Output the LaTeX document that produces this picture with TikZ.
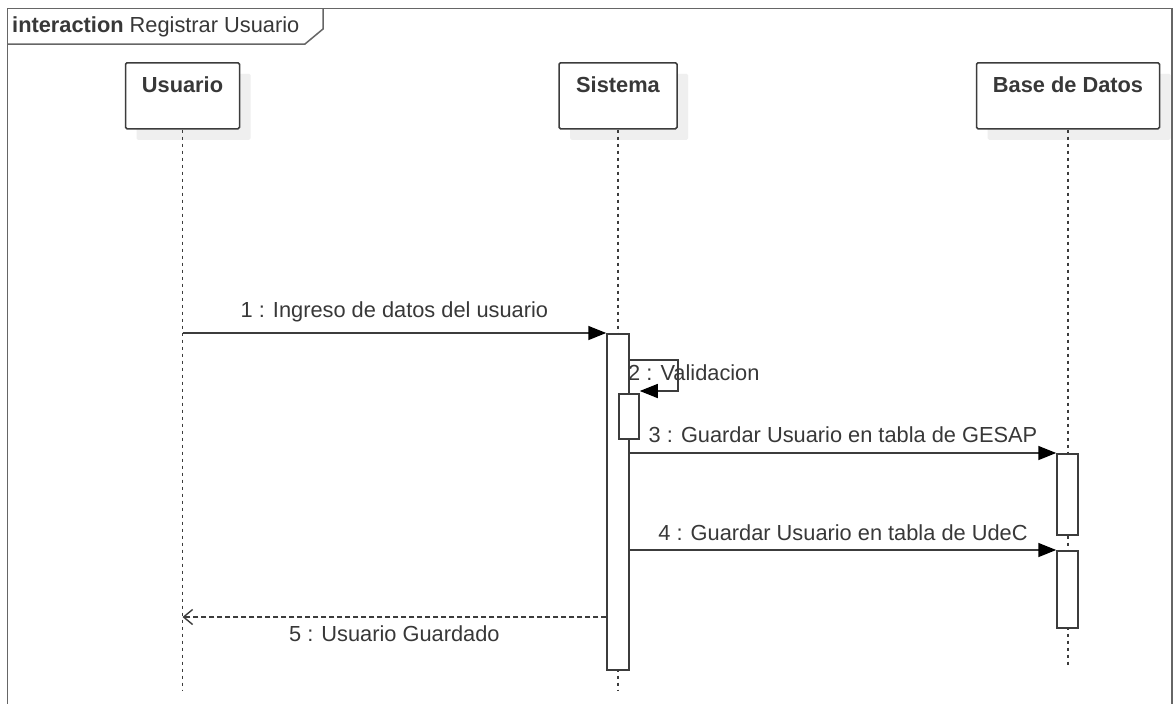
\documentclass[tikz,border=0pt]{standalone}
\usepackage{fontspec}
\setmainfont{Liberation Sans}
\usetikzlibrary{arrows.meta,shadows,calc}
\definecolor{ink}{HTML}{383838}
\definecolor{edge}{HTML}{3C3C3C}
\definecolor{shade}{HTML}{EFEFEF}
\tikzset{
  every node/.style={font=\fontsize{21.8}{26}\selectfont, text=ink},
  head/.style={draw=edge, line width=1.5pt, fill=white, rounded corners=1.5pt,
    minimum width=#1, inner ysep=0pt, text height=30pt, text depth=36pt,
    font=\fontsize{21.8}{26}\selectfont\bfseries,
    general shadow={fill=shade, shadow xshift=11pt, shadow yshift=-11pt}},
  lifeline/.style={draw=edge, line width=1.6pt, dash pattern=on 3pt off 4pt},
  actbox/.style={draw=edge, line width=1.5pt, fill=white, inner sep=0pt,
    anchor=north, minimum width=#1},
  msg/.style={draw=edge, line width=1.5pt,
    -{Triangle[length=18pt,width=14pt,color=black,fill=black]}},
  reply/.style={draw=edge, line width=1.4pt, dash pattern=on 5pt off 3pt,
    -{Straight Barb[length=9pt,width=15pt,line width=1.4pt]}},
  msglabel/.style={inner sep=0pt}
}
\begin{document}
\begin{tikzpicture}[x=1pt,y=-1pt]
\useasboundingbox (0,0) rectangle (1173,704);
\clip (0,0) rectangle (1173,704);
\fill[white] (0,0) rectangle (1173,704);

% interaction frame and its tag
\draw[draw=gray!80!black, line width=1.5pt] (7.5,8.5) rectangle (1172,730);
\draw[draw=gray!80!black, line width=1.5pt] (7.5,44) -- (305,44) -- (323,29) -- (323,8.5);
\node[anchor=west, inner sep=0pt] (title) at (12,27) {\textbf{interaction} Registrar Usuario};

% lifeline heads
\node[head=114pt, anchor=north] (u) at (182.5,62) {Usuario};
\node[head=118pt, anchor=north] (s) at (618,62) {Sistema};
\node[head=183pt, anchor=north] (b) at (1068,62) {Base de Datos};

\coordinate (uend) at (182.5,690);
\coordinate (send) at (618,690);
\coordinate (bend) at (1068,668);
\draw[lifeline] (u.south) -- (uend);
\draw[lifeline] (s.south) -- (send);
\draw[lifeline] (b.south) -- (bend);

% activation bars
\node[actbox=22pt, minimum height=336pt] (s1) at (618,333) {};
\node[actbox=20pt, minimum height=45pt] (s2) at (629,393) {};
\node[actbox=21pt, minimum height=81pt] (b1) at (1067.5,453) {};
\node[actbox=21pt, minimum height=77pt] (b2) at (1067.5,550) {};

% 1: input of user data
\draw[msg] (u.south |- s1.north west) -- (s1.north west)
  node[msglabel, midway, above=10pt] {1 : Ingreso de datos del usuario};

% 2: self validation
\coordinate (selfa) at (678,360);
\draw[msg] (s1.east |- selfa) -- (selfa) |- ([yshift=2pt]s2.north east);
\node[msglabel, anchor=west] (vlabel) at (628,373) {2 : Validacion};

% 3 and 4: storing the user
\draw[msg] (s1.east |- b1.north west) -- (b1.north west)
  node[msglabel, midway, above=10pt] {3 : Guardar Usuario en tabla de GESAP};
\draw[msg] (s1.east |- b2.north west) -- (b2.north west)
  node[msglabel, midway, above=9pt] {4 : Guardar Usuario en tabla de UdeC};

% 5: reply
\coordinate (ret) at (607,617);
\draw[reply] (s1.west |- ret) -- (u.south |- ret)
  node[msglabel, midway, below=8pt] {5 : Usuario Guardado};
\end{tikzpicture}
\end{document}
